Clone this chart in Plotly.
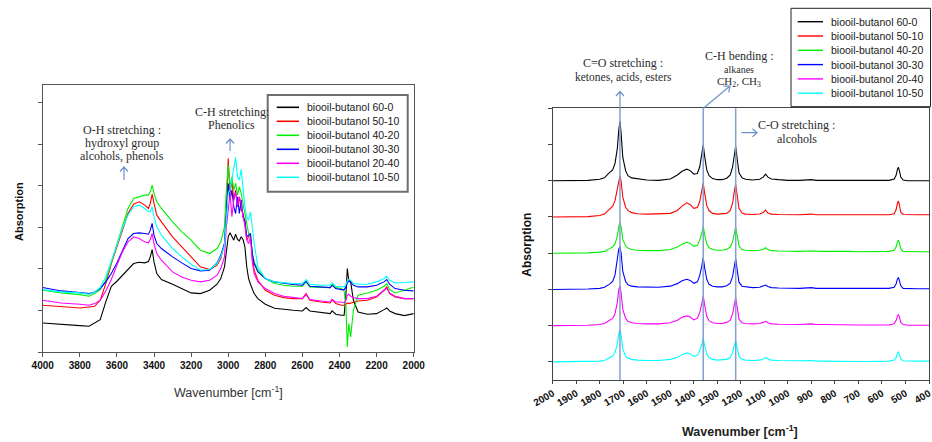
import plotly.graph_objects as go

W, H = 932, 442
SANS = "Liberation Sans, Arial, sans-serif"
SERIF = "Liberation Serif, Times New Roman, serif"
ARROW = "#6f92c7"
BAND = "#83a0cf"

names = ["biooil-butanol 60-0", "biooil-butanol 50-10", "biooil-butanol 40-20",
         "biooil-butanol 30-30", "biooil-butanol 20-40", "biooil-butanol 10-50"]
colors = ["#000000", "#ff0000", "#00f000", "#0000ff", "#ff00ff", "#00ffff"]

# ---- 4000-2000 cm-1 region: absorbance (arbitrary units) ----
wn_hi = [4000, 3900, 3800, 3750, 3720, 3690, 3660, 3630, 3600, 3570,
         3540, 3510, 3480, 3450, 3430, 3420, 3410, 3400, 3385, 3360,
         3300, 3250, 3200, 3150, 3100, 3060, 3040, 3020, 3010, 3000,
         2990, 2980, 2970, 2960, 2950, 2940, 2930, 2920, 2910, 2900,
         2890, 2880, 2870, 2860, 2840, 2800, 2750, 2700, 2650, 2600,
         2580, 2560, 2500, 2450, 2440, 2420, 2390, 2375, 2365, 2358,
         2350, 2340, 2325, 2300, 2250, 2200, 2160, 2145, 2130, 2100,
         2050, 2000]
hi_60_0 = [87, 82, 79, 77, 87, 97, 150, 197, 212, 230,
           250, 265, 269, 267, 271, 285, 307, 270, 235, 217,
           203, 190, 177, 175, 185, 203, 220, 255, 295, 345,
           357, 345, 335, 353, 337, 333, 345, 337, 315, 255,
           220, 203, 190, 175, 160, 143, 131, 127, 125, 123,
           133, 123, 118, 115, 123, 113, 110, 110, 175, 250,
           215, 210, 155, 120, 113, 115, 127, 132, 123, 115,
           109, 115]
hi_50_10 = [140, 135, 132, 135, 137, 155, 205, 265, 315, 365,
            415, 443, 450, 440, 430, 445, 473, 445, 410, 390,
            345, 315, 285, 255, 247, 260, 280, 325, 415, 580,
            475, 515, 455, 485, 435, 465, 425, 415, 385, 335,
            345, 350, 285, 245, 215, 185, 170, 163, 160, 160,
            175, 155, 150, 147, 157, 145, 140, 140, 143, 147,
            145, 147, 150, 153, 155, 165, 185, 195, 175, 165,
            160, 160]
hi_40_20 = [185, 177, 172, 167, 175, 187, 215, 270, 325, 380,
            430, 460, 465, 470, 470, 480, 500, 475, 450, 430,
            390, 360, 335, 305, 295, 310, 330, 375, 485, 560,
            495, 525, 485, 505, 470, 495, 475, 445, 415, 375,
            355, 345, 295, 270, 245, 220, 205, 200, 197, 197,
            210, 195, 193, 193, 203, 193, 190, 183, 135, 15,
            85, 45, 125, 170, 177, 185, 197, 205, 187, 177,
            185, 195]
hi_30_30 = [193, 183, 178, 175, 180, 190, 210, 235, 267, 305,
            340, 355, 357, 355, 353, 365, 385, 350, 325, 310,
            285, 267, 250, 243, 245, 267, 290, 325, 415, 505,
            455, 485, 435, 415, 465, 415, 455, 405, 395, 345,
            350, 355, 295, 265, 240, 220, 210, 205, 202, 200,
            212, 197, 195, 193, 200, 190, 187, 187, 195, 207,
            212, 210, 200, 195, 195, 200, 210, 217, 203, 190,
            185, 183]
hi_20_40 = [155, 147, 143, 140, 145, 155, 183, 217, 260, 300,
            330, 345, 340, 330, 327, 337, 355, 325, 295, 275,
            240, 225, 215, 210, 215, 230, 250, 285, 375, 435,
            475, 405, 455, 480, 435, 465, 445, 405, 380, 335,
            325, 345, 270, 235, 210, 190, 175, 167, 163, 160,
            172, 157, 153, 150, 157, 150, 150, 147, 155, 170,
            173, 167, 163, 160, 160, 167, 185, 191, 177, 167,
            160, 160]
hi_10_50 = [187, 180, 177, 173, 180, 193, 225, 270, 320, 370,
            410, 435, 440, 430, 420, 420, 435, 405, 375, 350,
            310, 285, 263, 245, 247, 265, 285, 320, 405, 475,
            485, 515, 545, 583, 525, 515, 547, 485, 435, 405,
            395, 420, 375, 325, 255, 220, 210, 207, 205, 205,
            217, 203, 200, 200, 207, 197, 195, 195, 203, 213,
            217, 215, 205, 203, 203, 210, 220, 227, 215, 207,
            208, 210]

# ---- 2000-400 cm-1 region: absorbance above each trace's own baseline ----
wn_lo = [2000, 1950, 1900, 1850, 1800, 1780, 1760, 1745, 1735, 1725,
         1719, 1714, 1709, 1702, 1690, 1680, 1665, 1640, 1600, 1550,
         1500, 1470, 1450, 1430, 1415, 1400, 1385, 1375, 1366, 1360,
         1354, 1345, 1335, 1320, 1300, 1280, 1260, 1245, 1235, 1228,
         1222, 1216, 1208, 1195, 1180, 1150, 1120, 1105, 1095, 1085,
         1070, 1040, 1000, 950, 900, 880, 850, 800, 760, 740,
         700, 650, 600, 570, 548, 540, 534, 530, 526, 520,
         510, 490, 450, 400]
lo_60_0 = [0, 0, 0, 0.01, 0.04, 0.08, 0.22, 0.30, 0.48, 0.90,
           1.40, 1.65, 1.30, 0.65, 0.28, 0.14, 0.08, 0.05, 0.02, 0.01,
           0.05, 0.16, 0.26, 0.32, 0.28, 0.18, 0.20, 0.38, 0.72, 0.99,
           0.68, 0.30, 0.14, 0.06, 0.03, 0.03, 0.07, 0.16, 0.38, 0.72,
           0.96, 0.62, 0.22, 0.08, 0.04, 0.02, 0.04, 0.10, 0.18, 0.10,
           0.05, 0.03, 0.01, 0.01, 0.03, 0.01, 0.01, 0.00, 0.01, 0.01,
           0, 0, 0, 0.01, 0.05, 0.15, 0.32, 0.37, 0.28, 0.10,
           0.02, 0, 0, 0]
lo_50_10 = [0, 0, 0, 0.01, 0.04, 0.08, 0.20, 0.30, 0.45, 0.75,
            1.02, 1.14, 0.98, 0.55, 0.27, 0.18, 0.12, 0.09, 0.08, 0.08,
            0.10, 0.18, 0.30, 0.39, 0.34, 0.24, 0.26, 0.42, 0.70, 0.94,
            0.66, 0.32, 0.17, 0.10, 0.08, 0.08, 0.10, 0.18, 0.38, 0.70,
            0.91, 0.62, 0.24, 0.11, 0.08, 0.07, 0.08, 0.12, 0.19, 0.11,
            0.08, 0.07, 0.06, 0.06, 0.08, 0.06, 0.06, 0.06, 0.07, 0.06,
            0.05, 0.05, 0.05, 0.06, 0.09, 0.20, 0.38, 0.44, 0.34, 0.13,
            0.07, 0.06, 0.06, 0.06]
lo_40_20 = [0, 0, 0, 0.01, 0.03, 0.05, 0.12, 0.17, 0.26, 0.48,
            0.74, 0.85, 0.72, 0.38, 0.20, 0.14, 0.10, 0.08, 0.07, 0.07,
            0.10, 0.17, 0.25, 0.30, 0.27, 0.19, 0.22, 0.36, 0.55, 0.74,
            0.52, 0.26, 0.15, 0.10, 0.08, 0.08, 0.11, 0.17, 0.32, 0.57,
            0.72, 0.50, 0.20, 0.10, 0.08, 0.07, 0.08, 0.11, 0.15, 0.10,
            0.07, 0.06, 0.05, 0.05, 0.06, 0.05, 0.05, 0.05, 0.06, 0.05,
            0.04, 0.04, 0.04, 0.05, 0.08, 0.17, 0.32, 0.36, 0.28, 0.12,
            0.05, 0.04, 0.04, 0.04]
lo_30_30 = [0, 0, 0, 0.01, 0.03, 0.06, 0.14, 0.22, 0.40, 0.85,
            1.12, 1.18, 1.00, 0.50, 0.22, 0.13, 0.09, 0.07, 0.06, 0.06,
            0.09, 0.16, 0.24, 0.28, 0.25, 0.17, 0.21, 0.38, 0.65, 0.88,
            0.60, 0.28, 0.14, 0.09, 0.07, 0.07, 0.10, 0.17, 0.36, 0.68,
            0.85, 0.56, 0.20, 0.09, 0.07, 0.05, 0.06, 0.09, 0.12, 0.08,
            0.05, 0.04, 0.03, 0.03, 0.05, 0.03, 0.03, 0.03, 0.03, 0.03,
            0.02, 0.02, 0.02, 0.03, 0.06, 0.15, 0.29, 0.33, 0.25, 0.10,
            0.03, 0.02, 0.02, 0.02]
lo_20_40 = [0, 0, 0, 0.01, 0.03, 0.06, 0.14, 0.20, 0.33, 0.65,
            1.00, 1.10, 0.90, 0.45, 0.20, 0.12, 0.08, 0.06, 0.05, 0.05,
            0.08, 0.15, 0.23, 0.27, 0.24, 0.16, 0.20, 0.36, 0.60, 0.83,
            0.57, 0.26, 0.13, 0.08, 0.06, 0.06, 0.09, 0.15, 0.33, 0.62,
            0.78, 0.52, 0.18, 0.08, 0.06, 0.05, 0.06, 0.09, 0.12, 0.08,
            0.05, 0.04, 0.03, 0.03, 0.05, 0.03, 0.03, 0.02, 0.03, 0.02,
            0.02, 0.02, 0.02, 0.02, 0.05, 0.14, 0.27, 0.31, 0.24, 0.09,
            0.03, 0.01, 0.01, 0.01]
lo_10_50 = [0, 0, 0, 0.01, 0.02, 0.04, 0.10, 0.16, 0.26, 0.50,
            0.80, 0.88, 0.74, 0.36, 0.16, 0.10, 0.07, 0.05, 0.04, 0.04,
            0.07, 0.13, 0.20, 0.25, 0.22, 0.15, 0.18, 0.30, 0.48, 0.66,
            0.45, 0.22, 0.11, 0.07, 0.05, 0.05, 0.07, 0.12, 0.25, 0.46,
            0.58, 0.40, 0.15, 0.07, 0.05, 0.04, 0.05, 0.08, 0.12, 0.08,
            0.05, 0.04, 0.03, 0.03, 0.04, 0.02, 0.02, 0.01, 0.02, 0.01,
            0.01, 0.01, 0.02, 0.02, 0.05, 0.12, 0.24, 0.27, 0.20, 0.08,
            0.03, 0.02, 0.02, 0.02]

stack_offset = [5, 4, 3, 2, 1, 0]
band_positions = [1714, 1360, 1222]

hi_series = [hi_60_0, hi_50_10, hi_40_20, hi_30_30, hi_20_40, hi_10_50]
lo_series = [lo_60_0, lo_50_10, lo_40_20, lo_30_30, lo_20_40, lo_10_50]
for s in hi_series:
    assert len(s) == len(wn_hi), len(s)
for s in lo_series:
    assert len(s) == len(wn_lo), len(s)


def px(x, y):
    """Pixel position on the page -> paper coordinates."""
    return x / W, 1 - y / H


fig = go.Figure()

for name, color, vals in zip(names, colors, hi_series):
    fig.add_trace(go.Scatter(x=wn_hi, y=vals, mode="lines", name=name,
                             line=dict(color=color, width=1.1),
                             xaxis="x", yaxis="y", hoverinfo="skip"))

for name, color, vals, off in zip(names, colors, lo_series, stack_offset):
    fig.add_trace(go.Scatter(x=wn_lo, y=[v + off for v in vals], mode="lines",
                             name=name, line=dict(color=color, width=1.1),
                             xaxis="x2", yaxis="y2", hoverinfo="skip"))

tickfont = dict(family=SANS, size=10, color="#111111", weight="bold")

fig.update_layout(
    width=W, height=H,
    margin=dict(l=0, r=0, t=0, b=0, pad=0, autoexpand=False),
    paper_bgcolor="white", plot_bgcolor="white", showlegend=False,
    xaxis=dict(domain=[42.7 / W, 413.7 / W], range=[4000, 2000],
               tickmode="linear", tick0=2000, dtick=200, automargin=False,
               ticks="outside", ticklen=4, tickcolor="#555555",
               ticklabeloverflow="allow",
               showline=True, mirror=True, linecolor="#555555", linewidth=1,
               showgrid=False, zeroline=False, tickfont=tickfont, anchor="y"),
    yaxis=dict(domain=[1 - 352 / H, 1 - 85.3 / H], range=[0, 799],
               tickmode="linear", tick0=0, dtick=124.5, automargin=False,
               ticks="outside", ticklen=4, tickcolor="#555555",
               showticklabels=False, showline=True, mirror=True,
               linecolor="#555555", linewidth=1,
               showgrid=False, zeroline=False, anchor="x"),
    xaxis2=dict(domain=[552.7 / W, 929 / W], range=[2000, 400],
                tickmode="linear", tick0=400, dtick=100, tickangle=-30,
                automargin=False, ticklabeloverflow="allow",
                ticks="outside", ticklen=3, tickcolor="#444444",
                showline=True, mirror=True, linecolor="#444444", linewidth=1,
                showgrid=False, zeroline=False, tickfont=tickfont, anchor="y2"),
    yaxis2=dict(domain=[1 - 380 / H, 1 - 108.3 / H], range=[-0.5, 7.0],
                tickmode="linear", tick0=0, dtick=1, automargin=False,
                ticks="outside", ticklen=4, tickcolor="#444444",
                showticklabels=False, showline=True, mirror=True,
                linecolor="#444444", linewidth=1,
                showgrid=False, zeroline=False, anchor="x2"),
)

shapes = []
annotations = []

# band markers in the fingerprint panel
for b in band_positions:
    shapes.append(dict(type="line", xref="x2", yref="y2 domain", x0=b, x1=b,
                       y0=0, y1=1, line=dict(color=BAND, width=1.5)))


def text_at(x, y, s, size=12, family=SERIF, color="#2b2b2b",
            xanchor="center", **kw):
    xp, yp = px(x, y)
    d = dict(x=xp, y=yp, xref="paper", yref="paper", text=s, showarrow=False,
             font=dict(family=family, size=size, color=color),
             xanchor=xanchor, yanchor="middle")
    d.update(kw)
    return d


def arrow(x_tip, y_tip, tail, arms, xref="paper"):
    """Pointer drawn as a pixel-sized path anchored at its tip.

    tail and arms are pixel offsets from the tip (y pointing up)."""
    xa = x_tip / W if xref == "paper" else x_tip
    (tx, ty), (a1x, a1y), (a2x, a2y) = tail, arms[0], arms[1]
    path = (f"M{tx},{ty} L0,0 M{a1x},{a1y} L0,0 L{a2x},{a2y}")
    shapes.append(dict(type="path", path=path, xref=xref, yref="paper",
                       xsizemode="pixel", ysizemode="pixel",
                       xanchor=xa, yanchor=1 - y_tip / H,
                       line=dict(color=ARROW, width=1.2), layer="above"))


UP = [(-4, -4.5), (4, -4.5)]

# band assignments, 4000-2000 cm-1
annotations += [
    text_at(121.7, 130, "O-H stretching :"),
    text_at(121.7, 143.3, "hydroxyl group"),
    text_at(121.7, 156, "alcohols, phenols"),
    text_at(232, 112, "C-H stretching:"),
    text_at(231, 125, "Phenolics"),
]
arrow(3562, 167, (0, -13), UP, xref="x")
arrow(2990, 139, (0, -12), UP, xref="x")

# band assignments, 2000-400 cm-1
annotations += [
    text_at(623.3, 63.3, "C=O stretching :"),
    text_at(623.3, 77.3, "ketones, acids, esters", size=11.5),
    text_at(739.3, 55.7, "C-H bending :"),
    text_at(739.3, 69, "alkanes", size=10),
    text_at(739.3, 81.5, "CH<sub>2</sub>, CH<sub>3</sub>", size=11),
    text_at(796.7, 125, "C-O stretching :"),
    text_at(796.7, 138.5, "alcohols"),
]
arrow(1714, 91.5, (0, -17), UP, xref="x2")
arrow(730, 86, (-26.7, -22.3), [(-6.4, -0.1), (-1.3, -6.3)])
arrow(757, 132.7, (-15.5, 0), [(-4.5, 4), (-4.5, -4)])

# axis titles
annotations += [
    text_at(228, 391.5, "Wavenumber [cm<sup>-1</sup>]", size=12.5, family=SANS,
            color="#333333"),
    text_at(19, 212, "<b>Absorption</b>", size=11, family=SANS,
            color="#111111", textangle=-90),
    text_at(740, 430.5, "<b>Wavenumber [cm<sup>-1</sup>]</b>", size=12.5,
            family=SANS, color="#222222"),
    text_at(526.7, 245, "<b>Absorption</b>", size=12, family=SANS,
            color="#111111", textangle=-90),
]


def legend_box(x0, y0, x1, y1, row0, step, lx0, lx1, tx, border, bw, lw):
    a, b = px(x0, y0)
    c, d = px(x1, y1)
    shapes.append(dict(type="rect", xref="paper", yref="paper",
                       x0=a, y0=d, x1=c, y1=b, fillcolor="white",
                       line=dict(color=border, width=bw), layer="above"))
    for i, (name, color) in enumerate(zip(names, colors)):
        yy = row0 + step * i
        p0 = px(lx0, yy)
        p1 = px(lx1, yy)
        shapes.append(dict(type="line", xref="paper", yref="paper",
                           x0=p0[0], y0=p0[1], x1=p1[0], y1=p1[1],
                           line=dict(color=color, width=lw), layer="above"))
        annotations.append(text_at(tx, yy, name, size=10.5, family=SANS,
                                   color="#1a1a1a", xanchor="left"))


legend_box(267.7, 95, 407.7, 191.7, 107.3, 14.0, 276.7, 299, 304.5,
           "#6e6e6e", 2, 1.6)
legend_box(791, 8.3, 930.5, 106.7, 21.7, 14.3, 797.7, 823, 828.5,
           "#222222", 1, 1.4)

fig.update_layout(shapes=shapes, annotations=annotations)

fig.write_html("out.html")
